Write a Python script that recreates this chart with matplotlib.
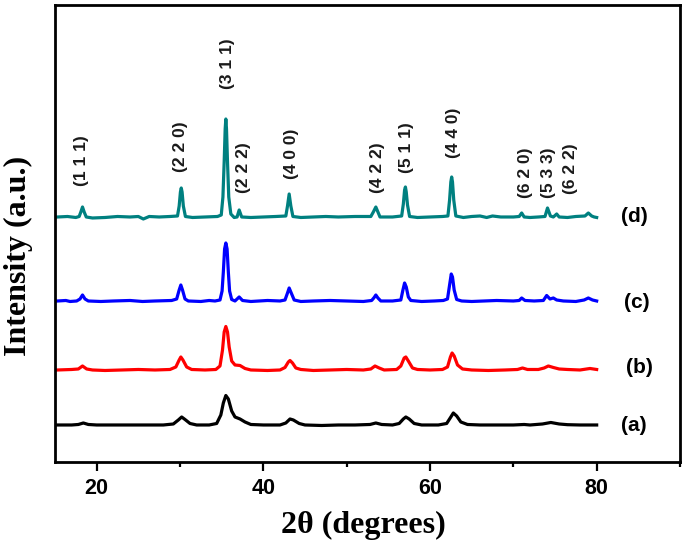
import matplotlib
matplotlib.use("Agg")
import matplotlib.pyplot as plt
from matplotlib.ticker import MultipleLocator

# 2theta / intensity (a.u.), curves already stacked
x_a = [15.3, 17.0, 17.8, 18.4, 19.0, 20.0, 22.0, 24.0, 26.0, 28.0, 29.2, 29.8, 30.2, 30.6,
       31.2, 32.0, 33.5, 34.4, 34.9, 35.2, 35.5, 35.8, 36.2, 36.6, 37.2, 37.8, 38.5, 40.0,
       42.0, 42.7, 43.2, 43.6, 44.3, 45.0, 47.0, 49.0, 51.0, 52.8, 53.5, 54.2, 55.5, 56.3,
       56.8, 57.1, 57.5, 58.1, 59.0, 61.0, 62.0, 62.5, 62.8, 63.2, 63.7, 64.5, 66.0, 68.0,
       70.0, 71.3, 72.0, 73.5, 74.5, 75.5, 76.5, 78.0, 80.0]
y_a = [37, 37, 37.5, 39, 37.5, 37, 37, 37, 37, 37, 38, 42, 45, 42.5,
       38.5, 37, 37, 38.5, 47, 59, 66.5, 63, 51, 45, 43, 40, 37.5, 37,
       37, 39, 43, 42, 38.5, 37, 36.5, 37, 37, 37.5, 39, 37.5, 37, 38.5,
       43, 45, 43, 38.5, 37, 37, 38.5, 45, 49, 46, 40, 37.5, 37, 37,
       37, 37.5, 37, 38, 39.5, 38, 37.3, 37, 37]

x_b = [15.3, 17.0, 17.8, 18.3, 18.8, 19.5, 21.0, 23.0, 25.0, 27.0, 28.8, 29.5, 29.9, 30.1,
       30.35, 30.8, 31.4, 33.0, 34.3, 34.8, 35.1, 35.3, 35.5, 35.7, 35.9, 36.2, 36.6, 37.2,
       37.8, 38.5, 40.5, 42.0, 42.6, 43.0, 43.2, 43.5, 43.9, 44.5, 46.0, 48.0, 50.0, 52.0,
       52.9, 53.4, 53.9, 54.5, 56.0, 56.5, 56.9, 57.1, 57.4, 57.9, 58.5, 60.0, 61.5, 62.1,
       62.45, 62.65, 62.9, 63.3, 63.9, 65.0, 67.0, 69.0, 70.5, 71.1, 71.7, 73.0, 73.7, 74.2,
       74.8, 75.5, 76.5, 78.0, 79.2, 79.6, 80.0]
y_b = [92, 92.5, 93, 96, 93, 92, 91.5, 92, 92.5, 92, 92.5, 95, 102, 105,
       102, 95, 92.5, 92, 92.5, 96, 112, 130, 135.5, 130, 115, 101, 97, 96.5,
       93.5, 92, 91.5, 92, 94.5, 100, 101.5, 99, 94, 92.5, 91.5, 92, 92.5, 92,
       93, 96, 94, 92, 92.5, 96, 104, 105, 101, 94, 92.5, 92, 92.5, 95,
       105, 109, 106, 97, 93, 92, 91.5, 92, 92.5, 94, 92.5, 92.5, 94, 96,
       94.5, 93, 92.5, 92, 93.5, 93, 92.5]

x_c = [15.3, 16.3, 16.8, 17.6, 18.0, 18.3, 18.6, 19.0, 20.5, 22.0, 24.0, 25.5, 27.0, 29.0,
       29.6, 29.9, 30.1, 30.3, 30.6, 31.0, 32.5, 33.5, 34.2, 34.8, 35.05, 35.2, 35.35, 35.5,
       35.65, 35.8, 35.95, 36.2, 36.6, 37.1, 37.5, 38.5, 39.5, 40.5, 42.0, 42.6, 42.9, 43.1,
       43.35, 43.7, 44.5, 46.0, 48.0, 50.0, 52.0, 53.0, 53.3, 53.5, 53.75, 54.1, 55.5, 56.5,
       56.75, 56.95, 57.15, 57.4, 57.7, 59.0, 60.5, 61.6, 62.1, 62.35, 62.55, 62.7, 62.9, 63.2,
       63.8, 65.0, 66.5, 68.0, 70.0, 70.7, 71.0, 71.4, 72.5, 73.6, 74.0, 74.4, 74.8, 75.2,
       76.0, 77.5, 78.5, 79.0, 79.5, 80.0]
y_c = [161, 161.5, 160.5, 161, 163, 167, 163, 161, 160.5, 161, 161.5, 160.5, 161, 161.5,
       163, 172, 177, 172, 163, 161, 160.5, 161.5, 161, 162, 171, 190, 213, 219,
       213, 190, 171, 162.5, 161, 165, 161.5, 160.5, 161, 161.5, 161, 162, 169, 174,
       169, 162, 160.5, 161, 161.5, 161, 160.5, 161.5, 164.5, 167, 164, 161, 161, 162,
       172, 179, 175, 165, 161.5, 160.5, 161, 161.5, 163, 177, 188, 185, 172, 162.5,
       161, 160.5, 161, 161.5, 161, 161.5, 164, 161.5, 161, 161.5, 166.5, 163, 164, 162,
       161, 160.5, 162, 164, 162, 161]

x_d = [15.3, 16.5, 17.5, 17.9, 18.1, 18.3, 18.5, 18.75, 19.5, 21.0, 22.5, 24.0, 25.0, 25.6,
       26.3, 27.5, 28.8, 29.7, 29.9, 30.05, 30.15, 30.25, 30.4, 30.65, 31.5, 33.0, 34.5, 34.95,
       35.15, 35.3, 35.42, 35.5, 35.58, 35.7, 35.85, 36.1, 36.5, 36.85, 37.1, 37.4, 38.5, 40.0,
       41.5, 42.7, 42.9, 43.1, 43.3, 43.55, 44.5, 46.0, 47.5, 49.0, 51.0, 52.9, 53.2, 53.5,
       53.75, 54.0, 55.5, 56.6, 56.8, 56.95, 57.05, 57.15, 57.3, 57.55, 58.5, 60.0, 61.5, 62.15,
       62.35, 62.5, 62.6, 62.7, 62.85, 63.1, 64.0, 65.0, 66.0, 66.8, 67.5, 68.5, 70.0, 70.7,
       71.0, 71.3, 72.0, 73.0, 73.8, 74.1, 74.45, 74.8, 75.2, 75.5, 76.5, 77.5, 78.6, 79.0,
       79.4, 79.7, 80.0]
y_d = [245, 245.5, 244.5, 245.5, 250, 255, 250, 245, 244, 244.5, 245.5, 245, 245.5, 243,
       245.5, 245, 245.5, 246, 256, 270, 274, 270, 256, 245.5, 244.5, 245, 245.5, 247,
       265, 300, 333, 343, 333, 300, 265, 248, 244.5, 245, 252, 245, 244.5, 245,
       245.5, 246, 256, 268, 256, 245.5, 244.5, 245, 245.5, 245, 245.5, 245.5, 250, 255,
       250, 245, 245, 246, 258, 272, 275, 270, 257, 245.5, 244.5, 245, 245.5, 246,
       262, 280, 285, 280, 262, 246, 244.5, 245.5, 246, 244.5, 246, 245, 245, 245.5,
       249, 245, 244.5, 245, 245.5, 254, 246, 245, 248, 245, 244.5, 245.5, 246, 249,
       246, 245, 244.5]

# Miller indices labels: position (2theta) and label base height
hkl_text = ["(1 1 1)", "(2 2 0)", "(3 1 1)", "(2 2 2)", "(4 0 0)", "(4 2 2)",
            "(5 1 1)", "(4 4 0)", "(6 2 0)", "(5 3 3)", "(6 2 2)"]
hkl_x = [18.2, 30.0, 35.66, 37.66, 43.4, 53.7, 57.2, 62.84, 71.4, 74.2, 76.9]
hkl_y = [276, 290, 372.7, 269, 283, 268.6, 289, 304, 264, 263.5, 267.5]

sample_names = ["(a)", "(b)", "(c)", "(d)"]
sample_x = [84.5, 85.1, 84.8, 84.5]
sample_y = [36.5, 94, 159, 245]

colori = ["black", "red", "blue", "#008080"]

fig = plt.figure(figsize=(6.85, 5.49), dpi=100)
ax = fig.add_axes([0.0803, 0.1585, 0.9124, 0.8324])

for xs, ys, c in zip([x_a, x_b, x_c, x_d], [y_a, y_b, y_c, y_d], colori):
    ax.plot(xs, ys, color=c, linewidth=2.3, solid_joinstyle="round")

for t, xx, yy in zip(hkl_text, hkl_x, hkl_y):
    ax.text(xx, yy, t, rotation=90, ha="center", va="bottom",
            fontsize=12.5, fontweight="bold", family="Liberation Sans", color="#1a1a1a")

for t, xx, yy in zip(sample_names, sample_x, sample_y):
    ax.text(xx, yy, t, ha="center", va="center", fontsize=15,
            fontweight="bold", family="Liberation Sans")

ax.set_xlim(15, 90)
ax.set_ylim(0, 457)
ax.xaxis.set_major_locator(MultipleLocator(20))
ax.xaxis.set_minor_locator(MultipleLocator(10))
ax.tick_params(axis="x", which="major", direction="out", length=6.5, width=1.6, pad=5)
ax.tick_params(axis="x", which="minor", direction="out", length=3.5, width=1.6)
ax.set_yticks([])
for lbl in ax.get_xticklabels():
    lbl.set_fontsize(15.5)
    lbl.set_fontweight("bold")
    lbl.set_family("Liberation Sans")
for s in ax.spines.values():
    s.set_linewidth(2)

ax.set_xlabel("2θ (degrees)", fontsize=23, fontweight="bold", family="Liberation Serif",
              va="center")
ax.xaxis.set_label_coords(0.494, -0.138)
ax.set_ylabel("Intensity (a.u.)", fontsize=23, fontweight="bold", family="Liberation Serif",
              va="center")
ax.yaxis.set_label_coords(-0.059, 0.45)

fig.savefig("out.png", dpi=100)
